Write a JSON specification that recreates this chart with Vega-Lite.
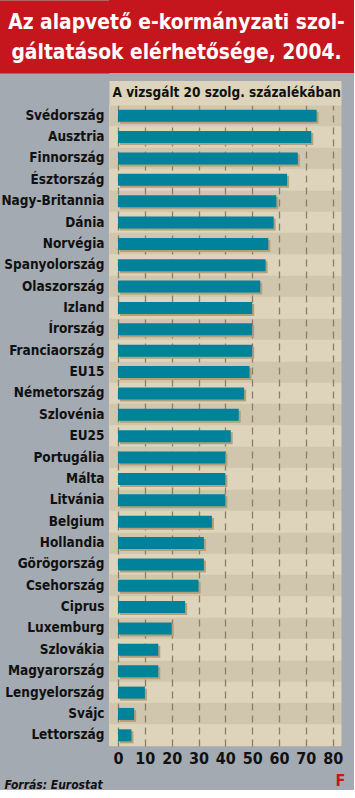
{
  "$schema": "https://vega.github.io/schema/vega-lite/v6.json",
  "background": "#a3aab2",
  "padding": 0,
  "spacing": 12,
  "config": {"view": {"stroke": null}, "font": "'DejaVu Sans Condensed', 'Liberation Sans', sans-serif"},
  "vconcat": [
    {
      "width": 245,
      "height": 73,
      "view": {"fill": "#c4161c", "stroke": null},
      "data": {"values": [
        {"n": 1, "line": "Az alapvető e-kormányzati szol-"},
        {"n": 2, "line": "gáltatások elérhetősége, 2004."}
      ]},
      "mark": {"type": "text", "fontWeight": "bold", "fontSize": 20.8, "color": "white", "baseline": "alphabetic", "align": "center", "dx": -55, "dy": 7.5},
      "encoding": {
        "y": {
          "field": "n", "type": "ordinal", "scale": {"padding": 0.717},
          "axis": {"title": null, "labels": false, "ticks": false, "grid": false, "domain": true,
                   "domainColor": "#c4161c", "domainWidth": 110, "offset": 55}
        },
        "text": {"field": "line"}
      }
    },
    {
      "width": 232,
      "height": 641,
      "view": {"fill": "#ddd4bb", "stroke": null},
      "data": {"values": [
        {"country": "Svédország", "value": 74},
        {"country": "Ausztria", "value": 72},
        {"country": "Finnország", "value": 67},
        {"country": "Észtország", "value": 63},
        {"country": "Nagy-Britannia", "value": 59},
        {"country": "Dánia", "value": 58},
        {"country": "Norvégia", "value": 56},
        {"country": "Spanyolország", "value": 55},
        {"country": "Olaszország", "value": 53},
        {"country": "Izland", "value": 50},
        {"country": "Írország", "value": 50},
        {"country": "Franciaország", "value": 50},
        {"country": "EU15", "value": 49},
        {"country": "Németország", "value": 47},
        {"country": "Szlovénia", "value": 45},
        {"country": "EU25", "value": 42},
        {"country": "Portugália", "value": 40},
        {"country": "Málta", "value": 40},
        {"country": "Litvánia", "value": 40},
        {"country": "Belgium", "value": 35},
        {"country": "Hollandia", "value": 32},
        {"country": "Görögország", "value": 32},
        {"country": "Csehország", "value": 30},
        {"country": "Ciprus", "value": 25},
        {"country": "Luxemburg", "value": 20},
        {"country": "Szlovákia", "value": 15},
        {"country": "Magyarország", "value": 15},
        {"country": "Lengyelország", "value": 10},
        {"country": "Svájc", "value": 6},
        {"country": "Lettország", "value": 5}
      ]},
      "resolve": {"axis": {"x": "independent", "y": "independent"}},
      "layer": [
        {
          "mark": {"type": "bar", "color": "#b39f7a", "height": 12, "xOffset": 2, "yOffset": 2},
          "encoding": {
            "y": {
              "field": "country", "type": "nominal", "sort": null,
              "scale": {"paddingInner": 0, "paddingOuter": 0},
              "axis": {
                "title": null, "domain": false, "ticks": false, "labelPadding": 5,
                "labelFontSize": 13.5, "labelFontWeight": "bold", "labelColor": "#111111",
                "grid": true, "bandPosition": 0.5, "gridWidth": 21.4, "gridOpacity": 1,
                "gridColor": {"condition": {"test": "round(datum.index*29)%2==0", "value": "#cfc6ad"}, "value": "#ddd4bb"}
              }
            },
            "x": {
              "field": "value", "type": "quantitative",
              "scale": {"domain": [-3.36, 83.1], "nice": false, "zero": true},
              "axis": {
                "orient": "bottom", "values": [0, 10, 20, 30, 40, 50, 60, 70, 80],
                "grid": false, "domain": false, "ticks": true, "tickSize": -641, "tickDash": [7, 5],
                "tickColor": "#8e7d62", "tickWidth": 1.3,
                "labelOverlap": false, "labelFlush": false,
                "labelFontSize": 16, "labelFontWeight": "bold", "labelColor": "#111111", "labelPadding": 645,
                "title": "Forrás: Eurostat", "titleFontStyle": "italic", "titleFontWeight": "bold",
                "titleFontSize": 12, "titleColor": "#111111", "titleAnchor": "start", "titleAlign": "left",
                "titleX": -105, "titleY": 38, "titleBaseline": "middle"
              }
            }
          }
        },
        {
          "mark": {"type": "bar", "color": "#00829a", "height": 12},
          "encoding": {
            "y": {
              "field": "country", "type": "nominal", "sort": null,
              "axis": {
                "orient": "right", "labels": false, "ticks": false, "grid": false, "domain": false,
                "title": "F", "titleAngle": 0, "titleX": -1, "titleY": 675, "titleAlign": "center",
                "titleBaseline": "middle", "titleFontSize": 16, "titleFontWeight": "bold", "titleColor": "#d0121b"
              }
            },
            "x": {
              "field": "value", "type": "quantitative",
              "axis": {
                "orient": "top", "labels": false, "ticks": false, "grid": false,
                "domain": true, "domainColor": "#ddd4bb", "domainWidth": 24.5, "offset": 12.25,
                "title": "A vizsgált 20 szolg. százalékában", "titleAnchor": "start", "titleAlign": "left",
                "titleX": 3, "titleY": 0, "titleBaseline": "middle", "titleFontSize": 13.5,
                "titleFontWeight": "bold", "titleColor": "#111111"
              }
            }
          }
        }
      ]
    }
  ]
}
